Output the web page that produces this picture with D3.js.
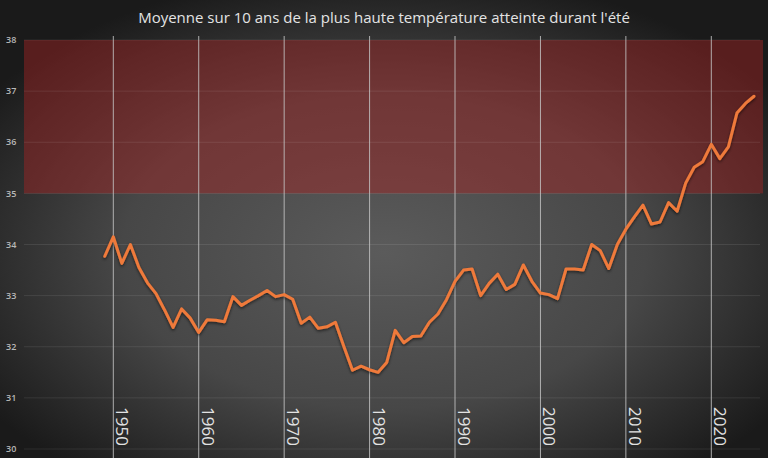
<!DOCTYPE html>
<html>
<head>
<meta charset="utf-8">
<script src="https://cdn.jsdelivr.net/npm/d3@7"></script>
<style>
  html, body { margin: 0; padding: 0; background: #2a2a2a; }
  svg { display: block; }
</style>
</head>
<body>
<svg id="chart"></svg>
<script>
// données
const years = [
  1949, 1950, 1951, 1952, 1953, 1954, 1955, 1956, 1957, 1958, 1959,
  1960, 1961, 1962, 1963, 1964, 1965, 1966, 1967, 1968, 1969,
  1970, 1971, 1972, 1973, 1974, 1975, 1976, 1977, 1978, 1979,
  1980, 1981, 1982, 1983, 1984, 1985, 1986, 1987, 1988, 1989,
  1990, 1991, 1992, 1993, 1994, 1995, 1996, 1997, 1998, 1999,
  2000, 2001, 2002, 2003, 2004, 2005, 2006, 2007, 2008, 2009,
  2010, 2011, 2012, 2013, 2014, 2015, 2016, 2017, 2018, 2019,
  2020, 2021, 2022, 2023, 2024, 2025
];
const temps = [
  33.77, 34.15, 33.63, 34.0, 33.55, 33.25, 33.04, 32.72, 32.38, 32.74, 32.56,
  32.28, 32.53, 32.52, 32.49, 32.98, 32.81, 32.91, 33.0, 33.1, 32.98,
  33.02, 32.93, 32.46, 32.58, 32.36, 32.39, 32.48, 32.0, 31.54, 31.62,
  31.55, 31.5, 31.69, 32.32, 32.08, 32.2, 32.21, 32.48, 32.64, 32.92,
  33.28, 33.5, 33.52, 33.0, 33.24, 33.42, 33.12, 33.22, 33.6, 33.28,
  33.05, 33.02, 32.94, 33.52, 33.52, 33.5, 34.0, 33.88, 33.53, 34.0,
  34.3, 34.54, 34.77, 34.4, 34.44, 34.82, 34.65, 35.2, 35.51, 35.62,
  35.96, 35.68, 35.91, 36.57, 36.76, 36.9
];
const decadeTicks = [1950, 1960, 1970, 1980, 1990, 2000, 2010, 2020];
const yTicks = [30, 31, 32, 33, 34, 35, 36, 37, 38];
const zoneChaude = [35, 38];
const titre = "Moyenne sur 10 ans de la plus haute température atteinte durant l'été";

const width = 768, height = 458;
const plotLeft = 24, plotRight = 763;

const svg = d3.select("#chart").attr("width", width).attr("height", height);
const defs = svg.append("defs");

// fond gris en dégradé radial
const bg = defs.append("radialGradient")
  .attr("id", "bg")
  .attr("cx", "50%").attr("cy", "55%").attr("r", "62%");
bg.append("stop").attr("offset", "0%").attr("stop-color", "#5b5b5b");
bg.append("stop").attr("offset", "55%").attr("stop-color", "#474747");
bg.append("stop").attr("offset", "100%").attr("stop-color", "#1a1a1a");

const shadow = defs.append("filter").attr("id", "shadow")
  .attr("x", "-5%").attr("y", "-5%").attr("width", "110%").attr("height", "110%");
shadow.append("feDropShadow")
  .attr("dx", 0).attr("dy", 1.5).attr("stdDeviation", 1.5)
  .attr("flood-color", "#000").attr("flood-opacity", 0.6);

svg.append("rect").attr("width", width).attr("height", height).attr("fill", "url(#bg)");

const x = d3.scaleLinear().domain([1950, 2020]).range([113.3, 711.3]);
const y = d3.scaleLinear().domain([30, 38]).range([449, 40]);

// zone rouge 35-38
svg.append("rect")
  .attr("x", plotLeft)
  .attr("y", y(zoneChaude[1]))
  .attr("width", plotRight - plotLeft)
  .attr("height", y(zoneChaude[0]) - y(zoneChaude[1]))
  .attr("fill", "rgba(165, 35, 35, 0.45)");

// grille horizontale
svg.append("g")
  .selectAll("line")
  .data(yTicks)
  .enter()
  .append("line")
  .attr("x1", plotLeft).attr("x2", plotRight - 3)
  .attr("y1", (d) => y(d)).attr("y2", (d) => y(d))
  .attr("stroke", "rgba(255,255,255,0.09)")
  .attr("stroke-width", 1);

// étiquettes axe Y
svg.append("g")
  .selectAll("text")
  .data(yTicks)
  .enter()
  .append("text")
  .attr("x", 6)
  .attr("y", (d) => y(d))
  .attr("dy", "0.35em")
  .attr("font-family", "Open Sans, sans-serif")
  .attr("font-size", 9)
  .attr("font-weight", 600)
  .attr("fill", "#b8b8b8")
  .text((d) => d);

// grille verticale par décennie
svg.append("g")
  .selectAll("line")
  .data(decadeTicks)
  .enter()
  .append("line")
  .attr("x1", (d) => x(d)).attr("x2", (d) => x(d))
  .attr("y1", 36).attr("y2", height)
  .attr("stroke", "#c4c4c4")
  .attr("stroke-opacity", 0.85)
  .attr("stroke-width", 1);

// étiquettes décennies (texte vertical)
svg.append("g")
  .selectAll("text")
  .data(decadeTicks)
  .enter()
  .append("text")
  .attr("transform", (d) => `translate(${x(d) + 3},407) rotate(90)`)
  .attr("font-family", "Open Sans, sans-serif")
  .attr("font-size", 17)
  .attr("fill", "#e2e2e2")
  .text((d) => d);

// courbe
const line = d3.line()
  .x((d, i) => x(years[i]))
  .y((d) => y(d));

svg.append("path")
  .datum(temps)
  .attr("d", line)
  .attr("fill", "none")
  .attr("stroke", "#ef7a3b")
  .attr("stroke-width", 3)
  .attr("stroke-linejoin", "round")
  .attr("stroke-linecap", "round")
  .attr("filter", "url(#shadow)");

// titre
svg.append("text")
  .attr("x", 384)
  .attr("y", 23)
  .attr("text-anchor", "middle")
  .attr("font-family", "Open Sans, sans-serif")
  .attr("font-size", 15)
  .attr("fill", "#e4e4e4")
  .text(titre);
</script>
</body>
</html>
